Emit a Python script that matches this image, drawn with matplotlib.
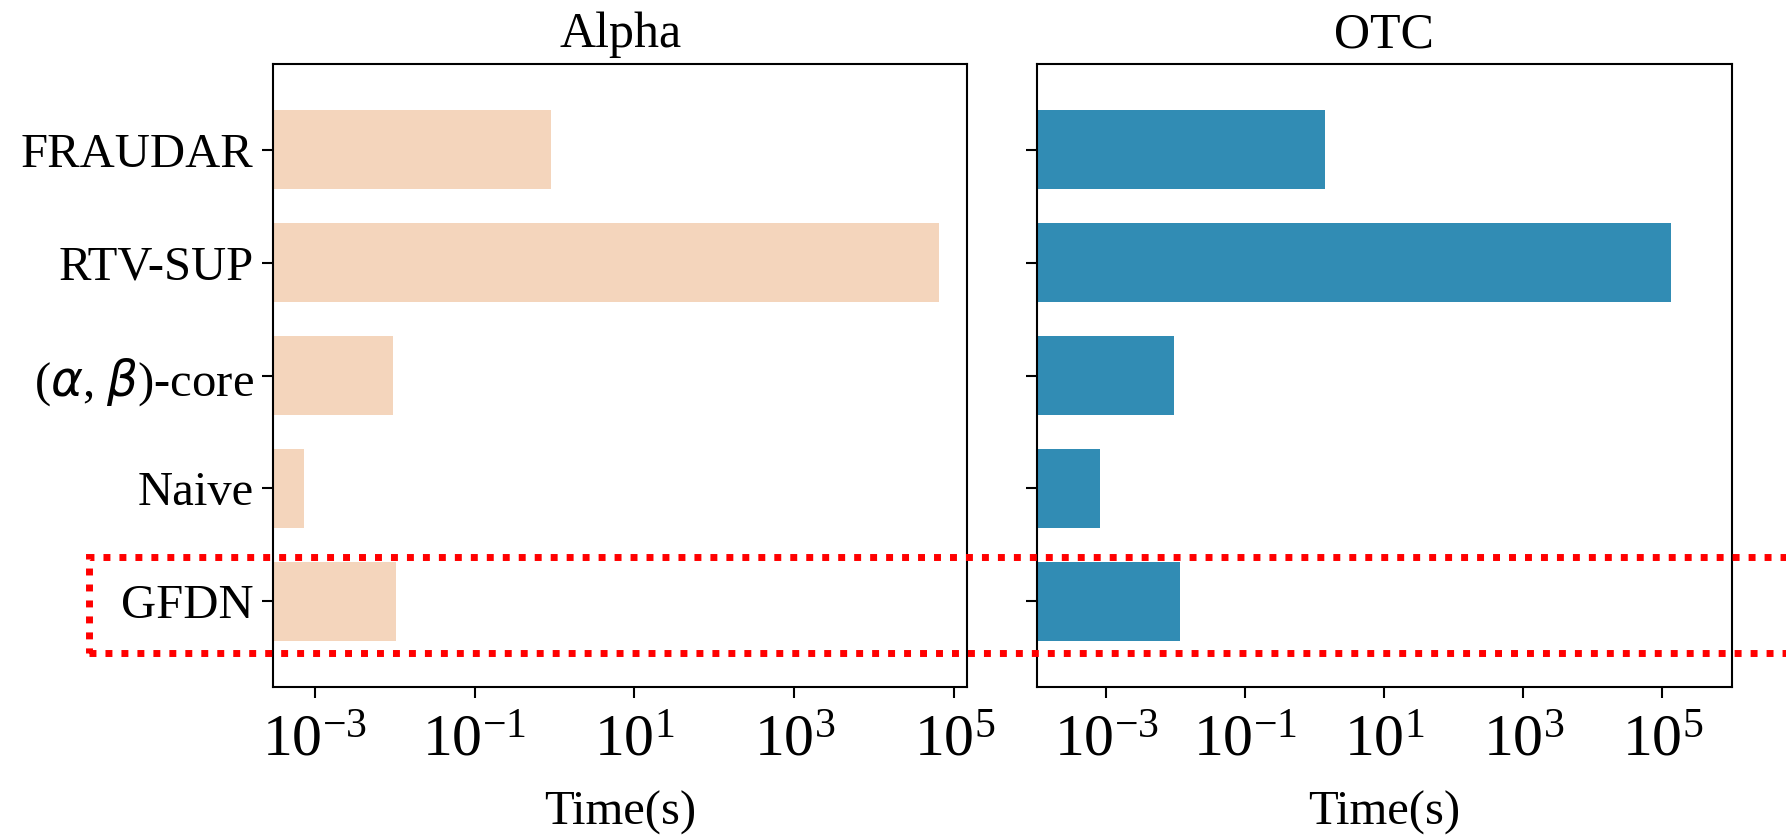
import numpy as np
import matplotlib
matplotlib.use('Agg')
import matplotlib.pyplot as plt
from matplotlib.patches import Rectangle

# Data
methods = ['FRAUDAR', 'RTV-SUP', r'($\alpha$, $\beta$)-core', 'Naive', 'GFDN']
alpha_time = [0.9, 65000, 0.0096, 0.00074, 0.0103]
otc_time = [1.4, 135000, 0.0095, 0.00082, 0.0114]
datasets = ['Alpha', 'OTC']
colors = ['#F4D5BC', '#318CB4']

plt.rcParams['font.family'] = ['Liberation Serif', 'DejaVu Serif']
plt.rcParams['mathtext.fontset'] = 'custom'
plt.rcParams['mathtext.rm'] = 'Liberation Serif'
plt.rcParams['mathtext.it'] = 'DejaVu Sans:italic'

fig = plt.figure(figsize=(17.86, 8.36), dpi=100)
ax1 = fig.add_axes([0.1529, 0.1782, 0.3886, 0.7452])
ax2 = fig.add_axes([0.5806, 0.1782, 0.3891, 0.7452])

y = np.arange(len(methods))
xlims = [(10 ** -3.52, 10 ** 5.16), (1e-4, 1e6)]
for ax, vals, col, name, xl in zip([ax1, ax2], [alpha_time, otc_time], colors, datasets, xlims):
    ax.barh(y, vals, height=0.7, color=col, left=1e-9)
    ax.set_xscale('log')
    ax.set_xlim(xl)
    ax.set_ylim(len(methods) - 0.24, -0.76)
    ax.set_yticks(y)
    ax.set_xticks([1e-3, 1e-1, 1e1, 1e3, 1e5])
    ax.xaxis.set_minor_locator(matplotlib.ticker.NullLocator())
    ax.tick_params(axis='x', labelsize=43, length=8, width=1.5, pad=12)
    ax.tick_params(axis='y', labelsize=35, length=8, width=1.5, pad=6)
    ax.set_title(name, fontsize=36, pad=12)
    ax.set_xlabel('Time(s)', fontsize=35, labelpad=16)
    for s in ax.spines.values():
        s.set_linewidth(1.5)

ax1.set_yticklabels(methods)
ax2.set_yticklabels([])

# red dotted box around GFDN row
box = Rectangle((0.0498, 0.2189), 0.99, 0.1148, transform=fig.transFigure,
                fill=False, edgecolor='red', linewidth=5, linestyle=(0, (1, 1.3)),
                zorder=10, clip_on=False)
fig.patches.append(box)

fig.savefig('out.png', dpi=100)
